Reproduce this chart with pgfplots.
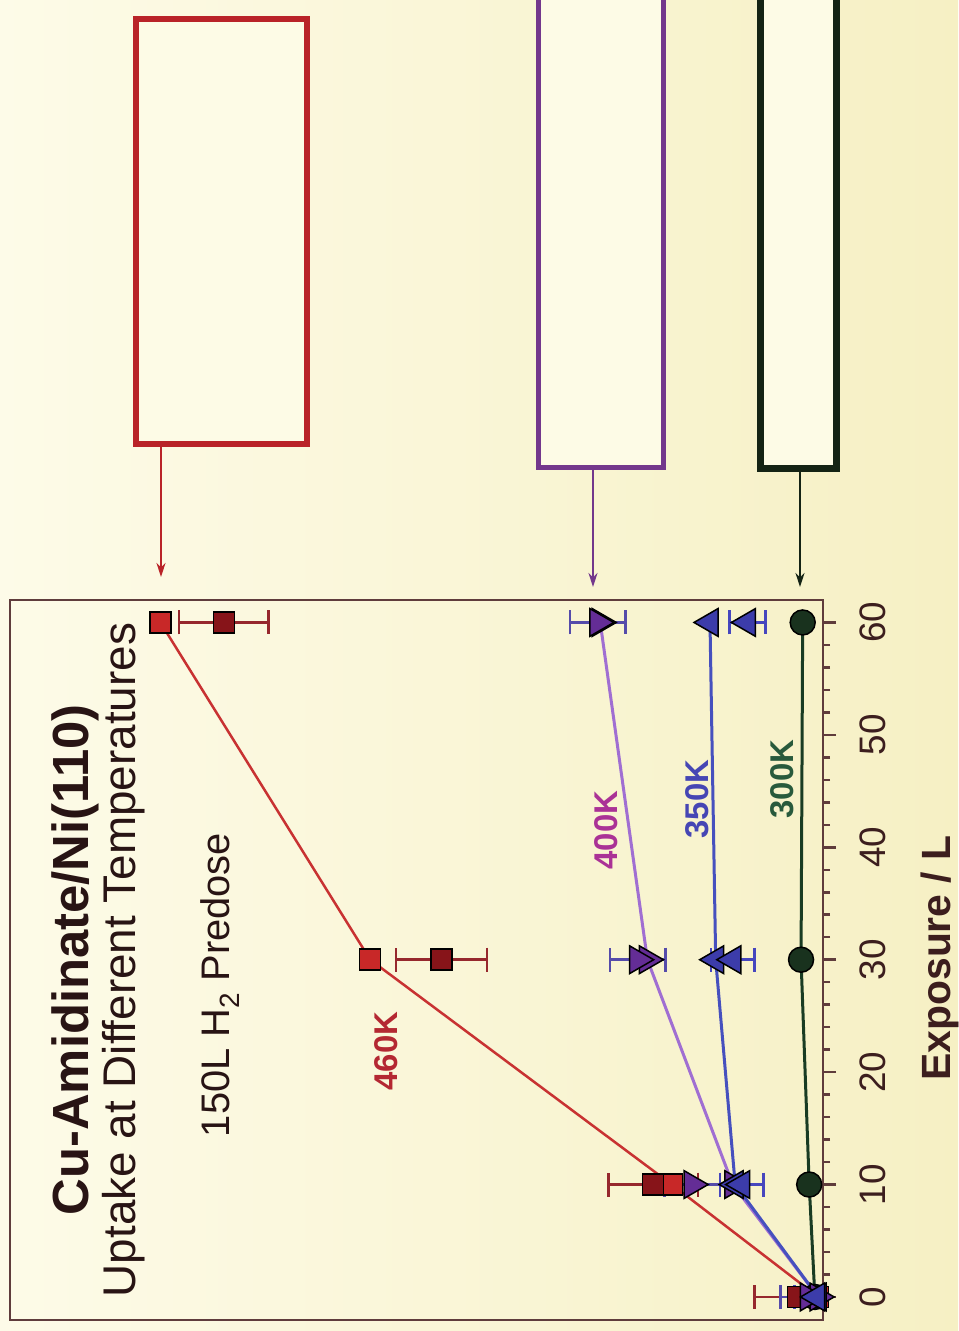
\documentclass[border=0pt]{standalone}
\usepackage{fontspec}
\setmainfont{Liberation Sans}
\usepackage{pgfplots}
\pgfplotsset{compat=1.18}
\usetikzlibrary{arrows.meta}
\definecolor{bgL}{RGB}{253,251,232}
\definecolor{bgR}{RGB}{246,240,196}
\definecolor{boxfill}{RGB}{253,251,230}
\definecolor{redbox}{RGB}{185,35,40}
\definecolor{purbox}{RGB}{115,55,140}
\definecolor{grnbox}{RGB}{20,35,20}
\definecolor{axbrown}{RGB}{95,60,60}
\definecolor{tickc}{RGB}{60,30,30}
\definecolor{titlec}{RGB}{40,20,20}
\definecolor{redline}{RGB}{200,50,50}
\definecolor{redlight}{RGB}{200,40,40}
\definecolor{reddark}{RGB}{135,20,25}
\definecolor{rederr}{RGB}{150,40,45}
\definecolor{purline}{RGB}{160,110,210}
\definecolor{purfill}{RGB}{100,45,150}
\definecolor{purerr}{RGB}{85,75,170}
\definecolor{bluline}{RGB}{70,80,190}
\definecolor{blufill}{RGB}{60,60,170}
\definecolor{bluerr}{RGB}{70,70,190}
\definecolor{grnline}{RGB}{25,60,35}
\definecolor{grnfill}{RGB}{25,50,30}
\definecolor{lab460}{RGB}{180,40,50}
\definecolor{lab400}{RGB}{170,50,150}
\definecolor{lab350}{RGB}{70,70,180}
\definecolor{lab300}{RGB}{40,90,60}
\begin{document}
\begin{tikzpicture}[x=1bp,y=1bp]
\useasboundingbox (0,0) rectangle (958,1331);
\shade[left color=bgL, right color=bgR] (0,0) rectangle (958,1331);
% boxes and arrows
\draw[line width=6bp, draw=redbox, fill=boxfill] (135.5,887) rectangle (306.5,1312);
\draw[line width=5bp, draw=purbox, fill=boxfill] (538.5,863.5) rectangle (663.5,1345);
\draw[line width=7bp, draw=grnbox, fill=boxfill] (760.5,862.5) rectangle (836.5,1345);
\draw[line width=2bp, redbox, -{Stealth[length=14bp,width=9bp]}] (161,884) -- (161,754);
\draw[line width=2bp, purbox, -{Stealth[length=14bp,width=9bp]}] (593,861) -- (593,744);
\draw[line width=2bp, grnbox, -{Stealth[length=14bp,width=9bp]}] (800,859) -- (800,744);
\begin{axis}[
  at={(416.5bp,371bp)}, anchor=center,
  scale only axis, width=813bp, height=720bp,
  x dir=reverse, xmin=0, xmax=100, ymin=-2.05, ymax=62,
  xtick=\empty,
  ytick={0,10,...,60}, minor y tick num=4,
  ytick pos=right, yticklabel pos=right, tick align=outside,
  major tick length=13bp, minor tick length=7bp,
  tick style={line width=2.5bp, color=axbrown},
  axis line style={line width=2.8bp, color=axbrown},
  /pgf/number format/assume math mode=true,
  yticklabel style={rotate=90, anchor=north, font=\fontsize{37}{40}\selectfont, text=tickc},
  yticklabel shift=20bp,
]
% green 300K
\addplot[color=grnline, line width=3bp, mark=*, mark size=12.5bp,
  mark options={fill=grnfill, draw=black, line width=1.5bp, solid}]
  coordinates {(1.0,0) (1.7,10) (2.7,30) (2.5,60)};
% red 460K
\addplot[color=redline, line width=2.5bp, mark=square*, mark size=10.5bp,
  mark options={fill=redlight, draw=black, line width=1.5bp, solid}]
  coordinates {(0.6,0) (18.6,10) (55.7,30) (81.5,60)};
\addplot[only marks, mark=square*, mark size=10.5bp,
  mark options={fill=reddark, draw=black, line width=1.5bp},
  error bars/.cd, x dir=both, x explicit,
  error bar style={line width=2.5bp, color=rederr},
  error mark options={rotate=90, line width=2.5bp, color=rederr, mark size=12bp}]
  coordinates {(3.1,0) +- (5.3,0) (20.9,10) +- (5.5,0) (46.9,30) +- (5.6,0) (73.7,60) +- (5.5,0)};
% purple 400K
\addplot[color=purline, line width=3bp, mark=triangle*, mark size=16bp,
  mark options={rotate=-90, fill=purfill, draw=black, line width=1.5bp, solid}]
  coordinates {(0.6,0) (11.1,10) (21.6,30) (27.4,60)};
\addplot[only marks, mark=triangle*, mark size=16bp,
  mark options={rotate=-90, fill=purfill, draw=black, line width=1.5bp},
  error bars/.cd, x dir=both, x explicit,
  error bar style={line width=2.5bp, color=purerr},
  error mark options={rotate=90, line width=2.5bp, color=purerr, mark size=12bp}]
  coordinates {(1.8,0) +- (3.4,0) (16.1,10) +- (3.4,0) (22.8,30) +- (3.4,0) (27.7,60) +- (3.4,0)};
% blue 350K
\addplot[color=bluline, line width=3bp, mark=triangle*, mark size=16bp,
  mark options={rotate=90, fill=blufill, draw=black, line width=1.5bp, solid}]
  coordinates {(0.6,0) (10.8,10) (13.2,30) (13.9,60)};
\addplot[only marks, mark=triangle*, mark size=16bp,
  mark options={rotate=90, fill=blufill, draw=black, line width=1.5bp},
  error bars/.cd, x dir=both, x explicit,
  error bar style={line width=2.5bp, color=bluerr},
  error mark options={rotate=90, line width=2.5bp, color=bluerr, mark size=12bp}]
  coordinates {(0.8,0) +- (2.7,0) (10.0,10) +- (2.7,0) (11.1,30) +- (2.7,0) (9.3,60) +- (2.2,0)};
\end{axis}
% texts
\node[rotate=90, anchor=base, font=\bfseries\fontsize{51}{60}\selectfont, text=titlec, inner sep=0pt] at (88,371) {Cu-Amidinate/Ni(110)};
\node[rotate=90, anchor=base, font=\fontsize{46}{55}\selectfont, text=titlec, inner sep=0pt] at (135,371) {Uptake at Different Temperatures};
\node[rotate=90, anchor=base, font=\fontsize{40}{48}\selectfont, text=titlec, inner sep=0pt] at (229,346) {150L H\textsubscript{2} Predose};
\node[rotate=90, anchor=base, font=\bfseries\fontsize{33}{40}\selectfont, text=lab460, inner sep=0pt] at (397,280) {460K};
\node[rotate=90, anchor=base, font=\bfseries\fontsize{33}{40}\selectfont, text=lab400, inner sep=0pt] at (617,501) {400K};
\node[rotate=90, anchor=base, font=\bfseries\fontsize{33}{40}\selectfont, text=lab350, inner sep=0pt] at (708,532) {350K};
\node[rotate=90, anchor=base, font=\bfseries\fontsize{33}{40}\selectfont, text=lab300, inner sep=0pt] at (793,552) {300K};
\node[rotate=90, anchor=base, font=\bfseries\fontsize{41}{50}\selectfont, text=tickc, inner sep=0pt] at (950,373) {Exposure / L};
\end{tikzpicture}
\end{document}
